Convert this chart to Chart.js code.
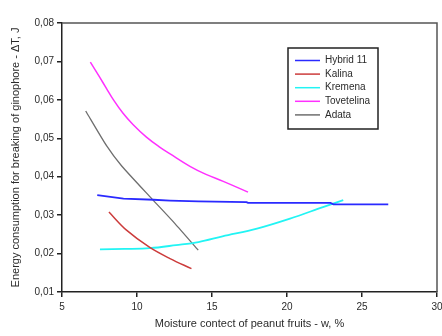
<!DOCTYPE html>
<html>
<head>
<meta charset="utf-8">
<script src="https://cdn.jsdelivr.net/npm/chart.js@4.4.1/dist/chart.umd.min.js"></script>
<style>
  html, body { margin: 0; padding: 0; background: #fff; }
  #wrap { width: 442px; height: 336px; position: relative; }
</style>
</head>
<body>
<div id="wrap"><canvas id="c" width="442" height="336"></canvas></div>
<script>
// ---- data ----
const seriesNames = ['Hybrid 11', 'Kalina', 'Kremena', 'Tovetelina', 'Adata'];

const hybridX = [7.35, 9.1, 11.1, 12.2, 14.1, 17.3, 17.4, 22.9, 23.1, 26.75];
const hybridY = [0.0352, 0.0343, 0.0340, 0.0338, 0.0336, 0.0334, 0.0332, 0.0332, 0.0328, 0.0328];

const kalinaX = [8.13, 9.3, 10.85, 12.2, 13.63];
const kalinaY = [0.0308, 0.0261, 0.0216, 0.0187, 0.0161];

const kremenaX = [7.53, 9.2, 10.85, 12.6, 14.1, 15.7, 18.0, 20.2, 22.4, 23.75];
const kremenaY = [0.0211, 0.0212, 0.0214, 0.0222, 0.0230, 0.0245, 0.0265, 0.0291, 0.0321, 0.0339];

const tovetelinaX = [6.89, 7.51, 7.96, 8.4, 9.07, 9.73, 10.63, 11.51, 12.18, 13.53, 14.6, 15.75, 17.4];
const tovetelinaY = [0.0698, 0.0659, 0.0630, 0.0602, 0.0565, 0.0536, 0.0503, 0.0477, 0.0460, 0.0427, 0.0406, 0.0388, 0.0360];

const adataX = [6.58, 7.98, 8.98, 10.98, 12.53, 14.08];
const adataY = [0.0571, 0.0480, 0.0428, 0.0343, 0.0278, 0.0209];

const xTicks = [5, 10, 15, 20, 25, 30];
const yTicks = [0.01, 0.02, 0.03, 0.04, 0.05, 0.06, 0.07, 0.08];

const xTitle = 'Moisture contect of peanut fruits - w, %';
const yTitle = 'Energy consumption for breaking of ginophore - ΔT, J';

// ---- build chart ----
function pts(xs, ys) { return xs.map((x, i) => ({ x: x, y: ys[i] })); }
const seriesX = [hybridX, kalinaX, kremenaX, tovetelinaX, adataX];
const seriesY = [hybridY, kalinaY, kremenaY, tovetelinaY, adataY];
const colors = ['#2a2aff', '#cc3b3b', '#22f4f4', '#ff30ff', '#6e6e6e'];
const tensions = [0, 0.35, 0.35, 0.4, 0.2];
const widths = [1.8, 1.5, 1.8, 1.5, 1.3];

const FONT = "'Liberation Sans', Arial, sans-serif";
const TXT = '#2b2b2b';

const frameLegend = {
  id: 'frameLegend',
  afterDatasetsDraw(chart) {
    const ctx = chart.ctx;
    const a = chart.chartArea;
    ctx.save();
    // top & right frame
    ctx.strokeStyle = '#555';
    ctx.lineWidth = 1.5;
    ctx.beginPath();
    ctx.moveTo(a.left, a.top);
    ctx.lineTo(a.right, a.top);
    ctx.lineTo(a.right, a.bottom);
    ctx.stroke();
    // legend box
    const bx = 288, by = 48, bw = 90, bh = 81;
    ctx.fillStyle = '#fff';
    ctx.fillRect(bx, by, bw, bh);
    ctx.strokeStyle = '#222';
    ctx.lineWidth = 1.5;
    ctx.strokeRect(bx, by, bw, bh);
    ctx.font = '10px ' + FONT;
    ctx.textBaseline = 'middle';
    ctx.textAlign = 'left';
    chart.data.datasets.forEach((ds, i) => {
      const y = by + 12.5 + i * 13.6;
      ctx.strokeStyle = ds.borderColor;
      ctx.lineWidth = 1.5;
      ctx.beginPath();
      ctx.moveTo(295, y);
      ctx.lineTo(320, y);
      ctx.stroke();
      ctx.fillStyle = TXT;
      ctx.fillText(ds.label, 325, y);
    });
    ctx.restore();
  }
};

new Chart(document.getElementById('c'), {
  type: 'line',
  data: {
    datasets: seriesNames.map((name, i) => ({
      label: name,
      data: pts(seriesX[i], seriesY[i]),
      borderColor: colors[i],
      backgroundColor: colors[i],
      borderWidth: widths[i],
      pointRadius: 0,
      fill: false,
      tension: tensions[i]
    }))
  },
  options: {
    responsive: false,
    animation: false,
    layout: { padding: { top: 23, right: 5, left: 0, bottom: 0 } },
    plugins: { legend: { display: false }, tooltip: { enabled: false } },
    scales: {
      x: {
        type: 'linear',
        min: 5, max: 30,
        afterBuildTicks: s => { s.ticks = xTicks.map(v => ({ value: v })); },
        afterFit: s => { s.height = 44; s.paddingLeft = 0; s.paddingRight = 0; },
        grid: { display: true, drawOnChartArea: false, drawTicks: true, tickLength: 5, color: '#222', lineWidth: 1.5 },
        border: { display: true, color: '#222', width: 1.5 },
        ticks: { color: TXT, font: { family: FONT, size: 10 }, padding: 4, maxRotation: 0, callback: v => String(v) },
        title: { display: true, text: xTitle, color: TXT, font: { family: FONT, size: 11 }, padding: { top: 4, bottom: 5 } }
      },
      y: {
        type: 'linear',
        min: 0.01, max: 0.08,
        afterBuildTicks: s => { s.ticks = yTicks.map(v => ({ value: v })); },
        afterFit: s => { s.width = 62; s.paddingTop = 0; s.paddingBottom = 0; },
        grid: { display: true, drawOnChartArea: false, drawTicks: true, tickLength: 5, color: '#222', lineWidth: 1.5 },
        border: { display: true, color: '#222', width: 1.5 },
        ticks: { color: TXT, font: { family: FONT, size: 10 }, padding: 3, callback: v => Number(v).toFixed(2).replace('.', ',') },
        title: { display: true, text: yTitle, color: TXT, font: { family: FONT, size: 11 }, padding: { top: 9, bottom: 0 } }
      }
    }
  },
  plugins: [frameLegend]
});
</script>
</body>
</html>
